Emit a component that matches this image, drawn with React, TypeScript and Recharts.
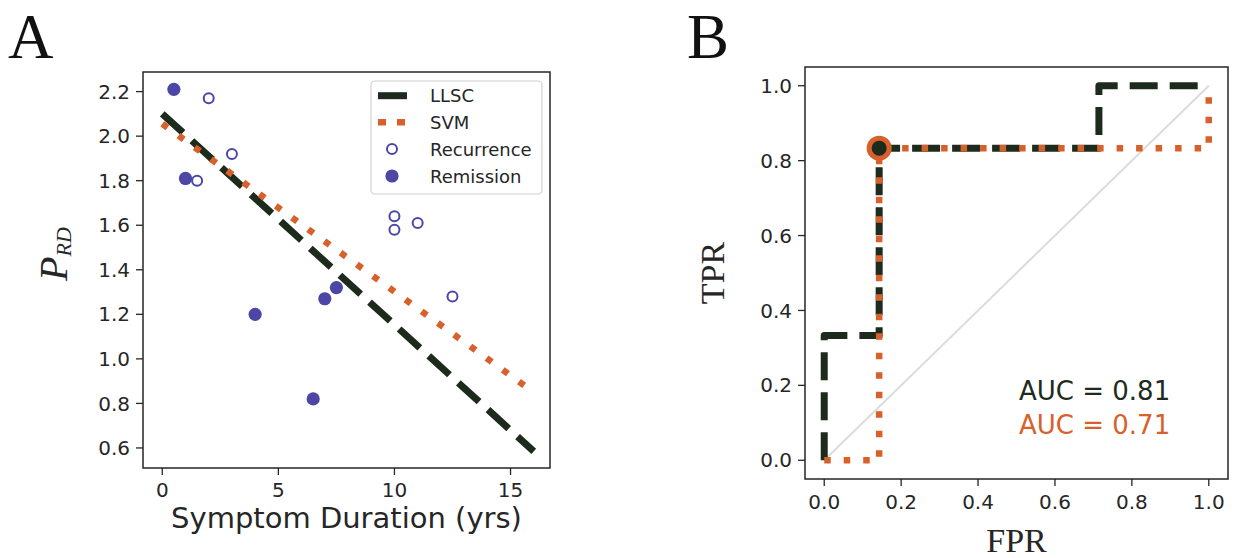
/**
 * RelapseFigure — two-panel figure.
 *
 * A: P_RD vs symptom duration, with LLSC / SVM fit lines and
 *    recurrence (open) / remission (filled) patients.
 * B: ROC curves for both classifiers with the chosen operating point.
 */
import React from 'react';
import { ComposedChart, Line, Scatter, XAxis, YAxis, ReferenceArea } from 'recharts';

// ---- panel A data ----
const recurrenceYears = [2, 1.5, 3, 10, 10, 11, 12.5];
const recurrencePrd = [2.17, 1.8, 1.92, 1.64, 1.58, 1.61, 1.28];
const remissionYears = [0.5, 1.0, 4, 6.5, 7, 7.5];
const remissionPrd = [2.21, 1.81, 1.2, 0.82, 1.27, 1.32];
const llscFitYears = [0, 16];
const llscFitPrd = [2.1, 0.585];
const svmFitYears = [0, 16];
const svmFitPrd = [2.055, 0.85];
const durationTicks = [0, 5, 10, 15];
const prdTicks = [0.6, 0.8, 1.0, 1.2, 1.4, 1.6, 1.8, 2.0, 2.2];

// ---- panel B data ----
const llscFpr = [0, 0, 1 / 7, 1 / 7, 5 / 7, 5 / 7, 1];
const llscTpr = [0, 1 / 3, 1 / 3, 5 / 6, 5 / 6, 1, 1];
const svmFpr = [0, 1 / 7, 1 / 7, 1, 1];
const svmTpr = [0, 0, 5 / 6, 5 / 6, 1];
const chanceFpr = [0, 1];
const chanceTpr = [0, 1];
const operatingFpr = [1 / 7];
const operatingTpr = [5 / 6];
const rateTicks = [0, 0.2, 0.4, 0.6, 0.8, 1.0];
const aucLabels = ['AUC = 0.81', 'AUC = 0.71'];

const DARK = '#1d2b1d';
const ORANGE = '#d8602a';
const PURPLE = '#4c46a6';
const INK = '#262626';
const SANS = "'DejaVu Sans', sans-serif";
const SERIF = "'Liberation Serif', 'DejaVu Serif', serif";

const A_X = [-0.83, 16.7];
const A_Y = [0.51, 2.288];
const B_DOM = [-0.05, 1.05];

interface Pt {
  x: number;
  y: number;
}

function zip(xs: number[], ys: number[]): Pt[] {
  return xs.map((x, i) => ({ x, y: ys[i] }));
}

const tickStyle = { fontSize: 20, fill: INK, fontFamily: SANS };
const tickLineStyle = { stroke: INK, strokeWidth: 1.3 };

const OpenDot = (p: any) => (
  <circle cx={p.cx} cy={p.cy} r={5} fill="#fff" stroke={PURPLE} strokeWidth={2} />
);
const FilledDot = (p: any) => <circle cx={p.cx} cy={p.cy} r={6.6} fill={PURPLE} />;
const RingDot = (p: any) => (
  <circle cx={p.cx} cy={p.cy} r={10} fill={DARK} stroke={ORANGE} strokeWidth={5} />
);

function PanelA() {
  return (
    <ComposedChart
      width={620}
      height={558}
      margin={{ top: 72, right: 70, bottom: 0, left: 0 }}
    >
      <XAxis
        type="number"
        dataKey="x"
        domain={A_X}
        allowDataOverflow
        ticks={durationTicks}
        interval={0}
        axisLine={false}
        tickLine={tickLineStyle}
        tickSize={7}
        tickMargin={8}
        tick={tickStyle}
        height={90}
      />
      <YAxis
        type="number"
        dataKey="y"
        domain={A_Y}
        allowDataOverflow
        ticks={prdTicks}
        interval={0}
        axisLine={false}
        tickLine={tickLineStyle}
        tickSize={7}
        tickMargin={6}
        tick={tickStyle}
        tickFormatter={(v: number) => v.toFixed(1)}
        width={143}
      />
      <Line
        data={zip(llscFitYears, llscFitPrd)}
        dataKey="y"
        type="linear"
        stroke={DARK}
        strokeWidth={7}
        strokeDasharray="28 12"
        dot={false}
        activeDot={false}
        isAnimationActive={false}
      />
      <Line
        data={zip(svmFitYears, svmFitPrd)}
        dataKey="y"
        type="linear"
        stroke={ORANGE}
        strokeWidth={6.5}
        strokeDasharray="6.5 13.5"
        dot={false}
        activeDot={false}
        isAnimationActive={false}
      />
      <Scatter data={zip(recurrenceYears, recurrencePrd)} dataKey="y" shape={OpenDot} isAnimationActive={false} />
      <Scatter data={zip(remissionYears, remissionPrd)} dataKey="y" shape={FilledDot} isAnimationActive={false} />
      <ReferenceArea
        x1={A_X[0]}
        x2={A_X[1]}
        y1={A_Y[0]}
        y2={A_Y[1]}
        fill="none"
        stroke={INK}
        strokeWidth={1.5}
        ifOverflow="visible"
      />
    </ComposedChart>
  );
}

function PanelB() {
  return (
    <ComposedChart
      width={617}
      height={558}
      margin={{ top: 67, right: 9, bottom: 0, left: 0 }}
    >
      <XAxis
        type="number"
        dataKey="x"
        domain={B_DOM}
        allowDataOverflow
        ticks={rateTicks}
        interval={0}
        axisLine={false}
        tickLine={tickLineStyle}
        tickSize={7}
        tickMargin={9}
        tick={tickStyle}
        tickFormatter={(v: number) => v.toFixed(1)}
        height={79}
      />
      <YAxis
        type="number"
        dataKey="y"
        domain={B_DOM}
        allowDataOverflow
        ticks={rateTicks}
        interval={0}
        axisLine={false}
        tickLine={tickLineStyle}
        tickSize={7}
        tickMargin={6}
        tick={tickStyle}
        tickFormatter={(v: number) => v.toFixed(1)}
        width={185}
      />
      <Line
        data={zip(chanceFpr, chanceTpr)}
        dataKey="y"
        type="linear"
        stroke="#dcdcdc"
        strokeWidth={2}
        dot={false}
        activeDot={false}
        isAnimationActive={false}
      />
      <Line
        data={zip(llscFpr, llscTpr)}
        dataKey="y"
        type="linear"
        stroke={DARK}
        strokeWidth={7}
        strokeDasharray="28 12"
        strokeLinejoin="round"
        dot={false}
        activeDot={false}
        isAnimationActive={false}
      />
      <Line
        data={zip(svmFpr, svmTpr)}
        dataKey="y"
        type="linear"
        stroke={ORANGE}
        strokeWidth={6.5}
        strokeDasharray="6.5 13"
        dot={false}
        activeDot={false}
        isAnimationActive={false}
      />
      <Scatter data={zip(operatingFpr, operatingTpr)} dataKey="y" shape={RingDot} isAnimationActive={false} />
      <ReferenceArea
        x1={B_DOM[0]}
        x2={B_DOM[1]}
        y1={B_DOM[0]}
        y2={B_DOM[1]}
        fill="none"
        stroke={INK}
        strokeWidth={1.5}
        ifOverflow="visible"
      />
    </ComposedChart>
  );
}

// Titles, panel letters, legend and AUC notes sit in one overlay layer
function Overlay() {
  const legendRows = [95.7, 122.3, 149, 176];
  return (
    <svg
      width={1237}
      height={558}
      style={{ position: 'absolute', left: 0, top: 0, pointerEvents: 'none' }}
    >
      <text x={8} y={58} fontSize={63} fontFamily={SERIF} fill="#111">A</text>
      <text x={687} y={58} fontSize={63} fontFamily={SERIF} fill="#111">B</text>

      {/* Panel A titles */}
      <text x={346.5} y={528} fontSize={29} fontFamily={SANS} fill={INK} textAnchor="middle">
        Symptom Duration (yrs)
      </text>
      <text
        transform="translate(67,254) rotate(-90)"
        fontFamily={SERIF}
        fontStyle="italic"
        fill={INK}
        textAnchor="middle"
      >
        <tspan fontSize={40}>P</tspan>
        <tspan fontSize={22} dy={4}>RD</tspan>
      </text>

      {/* Panel A legend */}
      <rect x={371} y={81} width={171} height={113} rx={4} fill="#fff" fillOpacity={0.85} stroke="#d0d0d0" strokeWidth={1.2} />
      <line x1={378} x2={407} y1={legendRows[0]} y2={legendRows[0]} stroke={DARK} strokeWidth={7} />
      <line x1={378} x2={407} y1={legendRows[1]} y2={legendRows[1]} stroke={ORANGE} strokeWidth={6.5} strokeDasharray="8 11" />
      <circle cx={392} cy={legendRows[2]} r={5} fill="#fff" stroke={PURPLE} strokeWidth={2} />
      <circle cx={392} cy={legendRows[3]} r={6.6} fill={PURPLE} />
      {['LLSC', 'SVM', 'Recurrence', 'Remission'].map((label, i) => (
        <text key={label} x={430} y={legendRows[i] + 6.5} fontSize={18} fontFamily={SANS} fill={INK}>
          {label}
        </text>
      ))}

      {/* Panel B titles */}
      <text x={1016.5} y={552} fontSize={34} fontFamily={SERIF} fill={INK} textAnchor="middle">
        FPR
      </text>
      <text
        transform="translate(724,273) rotate(-90)"
        fontSize={34}
        fontFamily={SERIF}
        fill={INK}
        textAnchor="middle"
      >
        TPR
      </text>
      <text x={1019} y={400} fontSize={26} fontFamily={SANS} fill={DARK}>{aucLabels[0]}</text>
      <text x={1019} y={434} fontSize={26} fontFamily={SANS} fill={ORANGE}>{aucLabels[1]}</text>
    </svg>
  );
}

export default function App() {
  return (
    <div style={{ position: 'absolute', left: 0, top: 0, width: 1237, height: 558, background: '#fff' }}>
      <div style={{ position: 'absolute', left: 0, top: 0 }}>
        <PanelA />
      </div>
      <div style={{ position: 'absolute', left: 620, top: 0 }}>
        <PanelB />
      </div>
      <Overlay />
    </div>
  );
}
